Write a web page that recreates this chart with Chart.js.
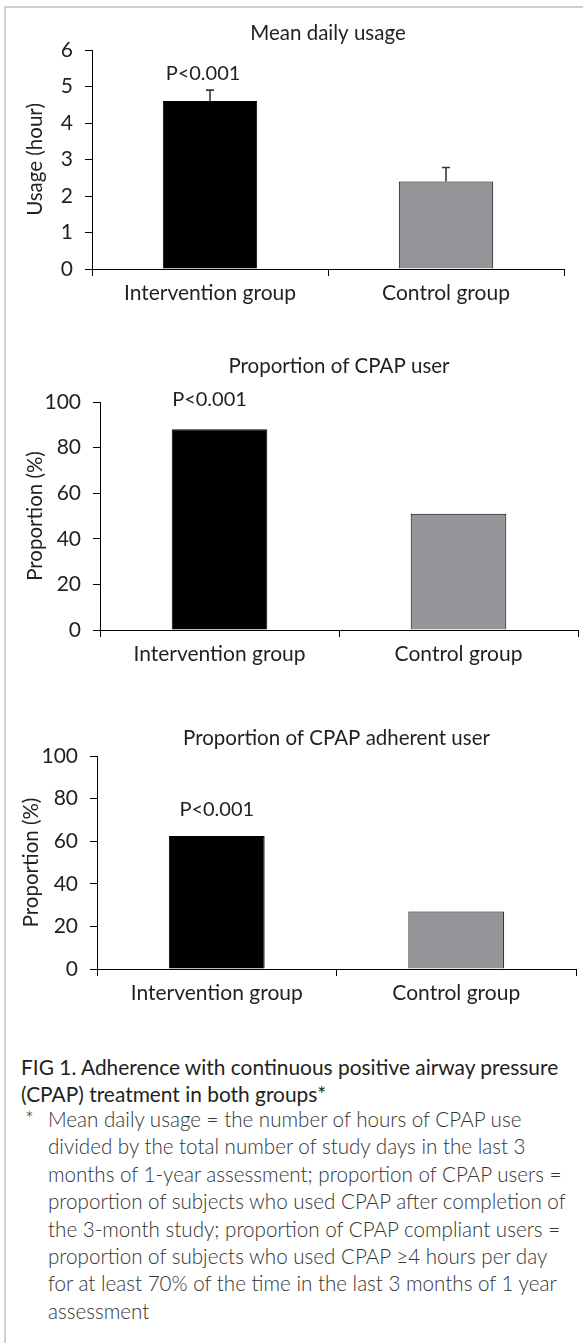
<!DOCTYPE html>
<html>
<head>
<meta charset="utf-8">
<script src="https://cdn.jsdelivr.net/npm/chart.js@4/dist/chart.umd.min.js"></script>
<style>
  html, body { margin: 0; padding: 0; background: #fff; }
  body { width: 583px; height: 1343px; position: relative; overflow: hidden; font-family: Lato, "Noto Sans", sans-serif; color: #231f20; }
  .frame { position: absolute; left: 4px; top: 6px; right: -10px; bottom: -10px; border-top: 2px solid #cfcfcf; border-left: 2px solid #cfcfcf; }
  .panel { position: absolute; left: 0; }
  .head { position: absolute; left: 21px; top: 1054px; font-size: 20.9px; line-height: 26.5px; white-space: nowrap; }
  .note { position: absolute; left: 48px; top: 1106px; font-size: 20.6px; line-height: 27.4px; font-weight: 300; white-space: nowrap; color: #333; }
  .note .star { position: absolute; left: -23px; top: 0; }
</style>
</head>
<body>
<div class="frame"></div>
<div class="panel" style="top:10px"><canvas id="chart-usage" width="583" height="300"></canvas></div>
<div class="panel" style="top:340px"><canvas id="chart-user" width="583" height="340"></canvas></div>
<div class="panel" style="top:700px"><canvas id="chart-adherent" width="583" height="320"></canvas></div>

<div class="head">FIG 1. Adherence with continuous positive airway pressure<br>(CPAP) treatment in both groups*</div>
<div class="note"><span class="star">*</span>Mean daily usage = the number of hours of CPAP use<br>divided by the total number of study days in the last 3<br>months of 1-year assessment; proportion of CPAP users =<br>proportion of subjects who used CPAP after completion of<br>the 3-month study; proportion of CPAP compliant users =<br>proportion of subjects who used CPAP ≥4 hours per day<br>for at least 70% of the time in the last 3 months of 1 year<br>assessment</div>

<script>
// values
const groups = ['Intervention group', 'Control group'];
const usageHours = [4.6, 2.4];
const usageSE = [0.3, 0.38];
const userPct = [88, 51];
const adherentPct = [62.5, 27];
const panelTitles = ['Mean daily usage', 'Proportion of CPAP user', 'Proportion of CPAP adherent user'];
const yTitles = ['Usage (hour)', 'Proportion (%)', 'Proportion (%)'];
const pText = 'P<0.001';
const barColors = ['#000000', '#939598'];

const FONT = 'Lato, "Noto Sans", sans-serif';
const INK = '#231f20';

// error bar + p value label above the first bar
const annotations = {
    id: 'annotations',
    afterDatasetsDraw(chart, args, opts) {
        const ctx = chart.ctx;
        const yScale = chart.scales.y;
        const meta = chart.getDatasetMeta(0);
        const values = chart.data.datasets[0].data;
        const errs = opts.errors || [];
        ctx.save();
        ctx.strokeStyle = '#3a3a3a';
        ctx.lineWidth = 1.6;
        meta.data.forEach(function (bar, i) {
            if (errs[i] == null) return;
            const top = yScale.getPixelForValue(values[i] + errs[i]);
            ctx.beginPath();
            ctx.moveTo(bar.x, bar.y);
            ctx.lineTo(bar.x, top);
            ctx.moveTo(bar.x - 4, top);
            ctx.lineTo(bar.x + 4, top);
            ctx.stroke();
        });
        if (opts.label) {
            const first = meta.data[0];
            const top = yScale.getPixelForValue(values[0] + (errs[0] || 0));
            ctx.fillStyle = INK;
            ctx.font = '20px ' + FONT;
            ctx.textAlign = 'center';
            ctx.textBaseline = 'middle';
            ctx.fillText(opts.label, first.x + opts.dx, top - opts.gap);
        }
        ctx.restore();
    }
};

function makeChart(id, values, o) {
    const ctx = document.getElementById(id).getContext('2d');
    return new Chart(ctx, {
        type: 'bar',
        data: {
            labels: groups,
            datasets: [{
                data: values,
                backgroundColor: barColors,
                borderColor: '#000',
                borderWidth: 1,
                barPercentage: 0.4,
                categoryPercentage: 1
            }]
        },
        options: {
            responsive: false,
            animation: false,
            layout: { padding: { left: 0, right: o.right, top: 0, bottom: 0 } },
            plugins: {
                legend: { display: false },
                tooltip: { enabled: false },
                title: {
                    display: true,
                    text: o.title,
                    fullSize: false,
                    color: INK,
                    font: { family: FONT, size: 20.5, weight: 'normal' },
                    padding: { top: o.titleTop, bottom: o.titleBottom }
                },
                annotations: { errors: o.errors, label: pText, gap: o.gap, dx: o.dx }
            },
            scales: {
                x: {
                    offset: true,
                    grid: { offset: true, drawOnChartArea: false, color: '#000', tickLength: 7 },
                    border: { color: '#000', width: 1 },
                    ticks: { color: INK, padding: 5, font: { family: FONT, size: 21 } },
                    afterFit: function (s) { s.height = o.xHeight; }
                },
                y: {
                    min: 0,
                    max: o.max,
                    grid: { drawOnChartArea: false, color: '#000', tickLength: 7 },
                    border: { color: '#000', width: 1 },
                    ticks: { stepSize: o.step, color: INK, padding: 12, font: { family: FONT, size: 21 } },
                    title: {
                        display: true,
                        text: o.yTitle,
                        color: INK,
                        font: { family: FONT, size: 20.5 },
                        padding: { top: o.yTitlePad, bottom: 0 }
                    },
                    afterFit: function (s) { s.width = o.yWidth; }
                }
            }
        },
        plugins: [annotations]
    });
}

makeChart('chart-usage', usageHours, {
    title: panelTitles[0], yTitle: yTitles[0], max: 6, step: 1, errors: usageSE,
    right: 19, yWidth: 92, xHeight: 41, titleTop: 10.7, titleBottom: 4.7, yTitlePad: 22.7, gap: 17, dx: -7
});
makeChart('chart-user', userPct, {
    title: panelTitles[1], yTitle: yTitles[1], max: 100, step: 20,
    right: 5, yWidth: 100, xHeight: 50, titleTop: 13.7, titleBottom: 23.7, yTitlePad: 22.7, gap: 30, dx: -10
});
makeChart('chart-adherent', adherentPct, {
    title: panelTitles[2], yTitle: yTitles[2], max: 100, step: 20,
    right: 7, yWidth: 97, xHeight: 51, titleTop: 25.7, titleBottom: 5.7, yTitlePad: 19.5, gap: 26, dx: 0
});
</script>
</body>
</html>
